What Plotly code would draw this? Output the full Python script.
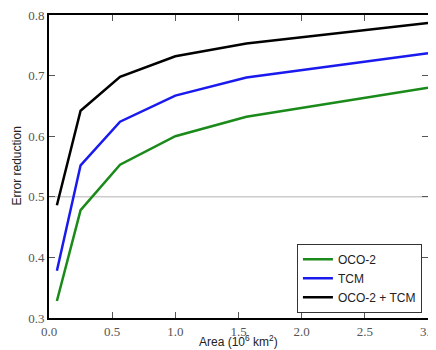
import plotly.graph_objects as go

area = [0.0625, 0.25, 0.5625, 1.0, 1.5625, 3.0]
oco2 = [0.328, 0.478, 0.553, 0.600, 0.632, 0.680]
tcm = [0.378, 0.552, 0.624, 0.667, 0.697, 0.737]
both = [0.486, 0.642, 0.698, 0.732, 0.753, 0.787]
names = ["OCO-2", "TCM", "OCO-2 + TCM"]
colors = ["#1a8a1a", "#1a1aee", "#000000"]
ref_level = 0.5

fig = go.Figure()
for nm, ys, c in zip(names, [oco2, tcm, both], colors):
    fig.add_trace(go.Scatter(x=area, y=ys, mode="lines", name=nm,
                             line=dict(color=c, width=2.5)))

fig.add_shape(type="line", xref="paper", x0=0, x1=1, yref="y", y0=ref_level, y1=ref_level,
              line=dict(color="#cccccc", width=1.5), layer="below")

axis_common = dict(showgrid=False, zeroline=False, showline=True, linecolor="black",
                   linewidth=2, mirror="ticks", ticks="inside", ticklen=6, tickwidth=1,
                   tickcolor="#555555", automargin=False, ticklabeloverflow="allow",
                   tickfont=dict(family="Liberation Serif, DejaVu Serif, serif", size=13, color="#555555"))

fig.update_xaxes(range=[0, 3.0], tickvals=[0, 0.5, 1.0, 1.5, 2.0, 2.5, 3.0],
                 ticktext=["0.0", "0.5", "1.0", "1.5", "2.0", "2.5", "3.0"],
                 **axis_common)
fig.update_yaxes(range=[0.3, 0.8], tickvals=[0.3, 0.4, 0.5, 0.6, 0.7, 0.8],
                 ticktext=["0.3", "0.4", "0.5", "0.6", "0.7", "0.8"],
                 **axis_common)

fig.add_annotation(text="Area (10<sup>6</sup> km<sup>2</sup>)", xref="paper", yref="paper",
                   x=0.5, y=0, yanchor="bottom", xanchor="center", yshift=-33, showarrow=False,
                   font=dict(family="Liberation Sans", size=12, color="#222222"))
fig.add_annotation(text="Error reduction", xref="paper", yref="paper", textangle=-90,
                   x=0, y=0.5, xanchor="center", yanchor="middle", xshift=-33, showarrow=False,
                   font=dict(family="Liberation Sans", size=12, color="#222222"))

# the page body adds an 8px offset, so the figure is 8px smaller than the window
fig.update_layout(
    width=428, height=342,
    margin=dict(l=41, r=8, t=7, b=32),
    plot_bgcolor="white", paper_bgcolor="white",
    legend=dict(x=0.984, y=0.017, xanchor="right", yanchor="bottom",
                bordercolor="#333333", borderwidth=1, bgcolor="white",
                font=dict(family="Liberation Sans", size=12, color="#222222"),
                tracegroupgap=0, itemwidth=30),
    showlegend=True,
)

fig.write_html("out.html")
